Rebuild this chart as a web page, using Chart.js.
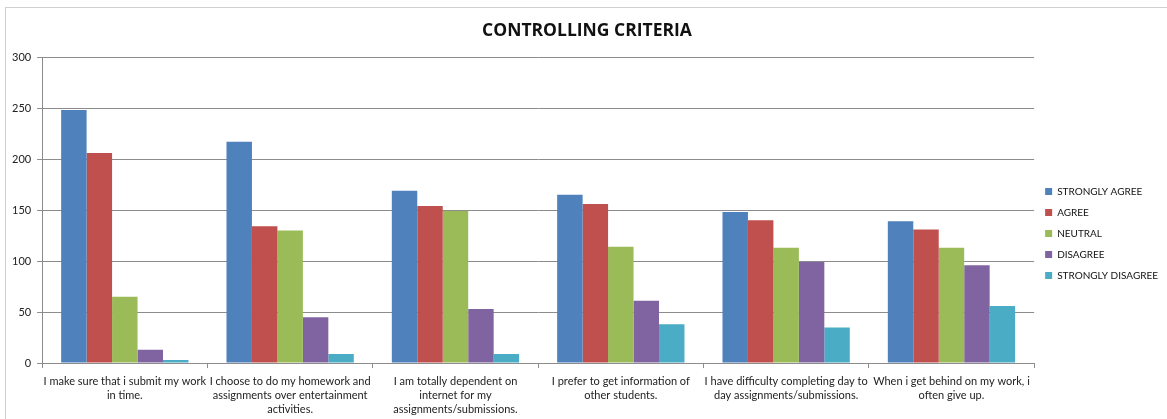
<!DOCTYPE html>
<html>
<head>
<meta charset="utf-8">
<script src="https://cdn.jsdelivr.net/npm/chart.js@4/dist/chart.umd.min.js"></script>
<style>
  body { margin: 0; background: #fff; overflow: hidden; }
  #box { position: absolute; left: 5px; top: 7px; width: 1162px; height: 416px; border-left: 1px solid #d0d0d0; border-top: 1px solid #d0d0d0; }
</style>
</head>
<body>
<div id="box"><canvas id="chart"></canvas></div>
<script>
// Categories (wrapped as in the original)
const categories = [
  ["I make sure that i submit my work", "in time."],
  ["I choose to do my homework and", "assignments over entertainment", "activities."],
  ["I am totally dependent on", "internet for my", "assignments/submissions."],
  ["I prefer to get information of", "other students."],
  ["I have difficulty completing day to", "day assignments/submissions."],
  ["When i get behind on my work, i", "often give up."]
];
// Series
const stronglyAgree    = [248, 217, 169, 165, 148, 139];
const agree            = [206, 134, 154, 156, 140, 131];
const neutral          = [65, 130, 149, 114, 113, 113];
const disagree         = [13, 45, 53, 61, 99, 96];
const stronglyDisagree = [3, 9, 9, 38, 35, 56];
const yTicks = [0, 50, 100, 150, 200, 250, 300];

const font = "Lato, 'Open Sans', sans-serif";
Chart.defaults.font.family = font;
Chart.defaults.color = "#222";

const cv = document.getElementById("chart");
cv.width = 1162; cv.height = 416;
const ctx = cv.getContext("2d");

new Chart(ctx, {
  type: "bar",
  data: {
    labels: categories,
    datasets: [
      { label: "STRONGLY AGREE", data: stronglyAgree, backgroundColor: "#4f81bd" },
      { label: "AGREE", data: agree, backgroundColor: "#c0504d" },
      { label: "NEUTRAL", data: neutral, backgroundColor: "#9bbb59" },
      { label: "DISAGREE", data: disagree, backgroundColor: "#8064a2" },
      { label: "STRONGLY DISAGREE", data: stronglyDisagree, backgroundColor: "#4bacc6" }
    ]
  },
  options: {
    responsive: false,
    animation: false,
    maintainAspectRatio: false,
    layout: { padding: { left: 0, right: 0, top: 2, bottom: 2 } },
    datasets: { bar: { barPercentage: 1, categoryPercentage: 0.77 } },
    plugins: {
      title: {
        display: true,
        text: "CONTROLLING CRITERIA",
        color: "#111",
        font: { size: 17.5, weight: "bold", family: "'Open Sans', sans-serif" },
        padding: { top: 11, bottom: 15 }
      },
      legend: {
        position: "right",
        // empty title just pushes the item block down like the original
        title: { display: true, text: "", font: { size: 1 }, padding: 17 },
        labels: { boxWidth: 7, boxHeight: 7, padding: 11, color: "#111", font: { size: 10 } }
      },
      tooltip: { enabled: false }
    },
    scales: {
      x: {
        grid: { offset: true, drawOnChartArea: false, color: "#8c8c8c", tickLength: 5 },
        border: { color: "#8c8c8c" },
        ticks: { maxRotation: 0, autoSkip: false, font: { size: 11, lineHeight: 1.27 }, color: "#222", padding: 6 }
      },
      y: {
        min: 0, max: 300,
        afterBuildTicks: axis => { axis.ticks = yTicks.map(v => ({ value: v })); },
        grid: { color: "#8c8c8c", tickLength: 5 },
        border: { color: "#8c8c8c" },
        ticks: { font: { size: 11 }, color: "#222", padding: 6 }
      }
    }
  }
});
</script>
</body>
</html>
